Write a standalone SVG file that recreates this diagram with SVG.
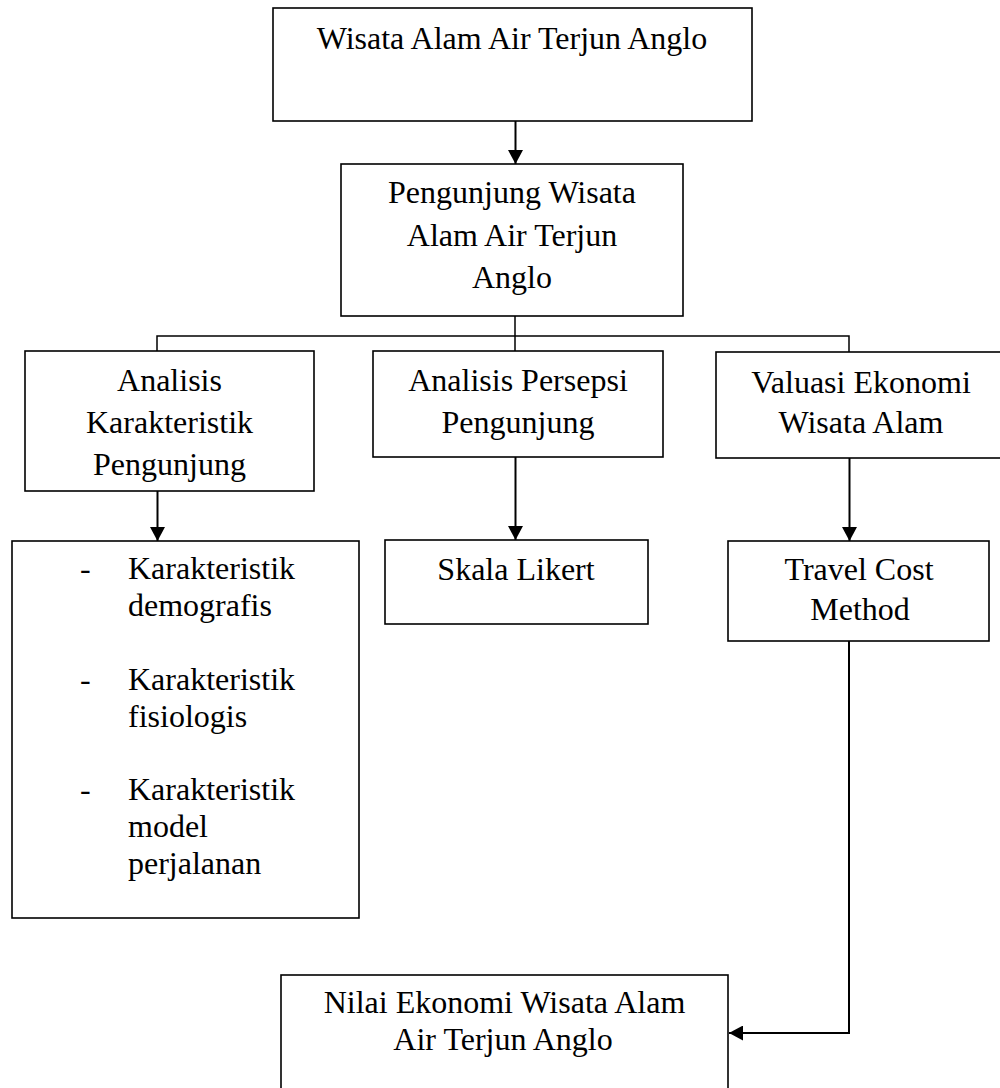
<svg xmlns="http://www.w3.org/2000/svg" width="1000" height="1088" viewBox="0 0 1000 1088">
<defs>
<style>
.box{fill:#fff;stroke:#000;stroke-width:1.6}
.t{font-family:"Liberation Serif","Times New Roman",serif;font-size:32px;fill:#000;text-anchor:middle}
.l{font-family:"Liberation Serif","Times New Roman",serif;font-size:32px;fill:#000}
.c{fill:none;stroke:#000;stroke-width:1.5}
.a{fill:none;stroke:#000;stroke-width:2}
</style>
<marker id="ah" viewBox="0 0 14 15" refX="14" refY="7.5" markerWidth="14" markerHeight="15" markerUnits="userSpaceOnUse" orient="auto">
<path d="M0,0 L14,7.5 L0,15 Z" fill="#000"/>
</marker>
</defs>
<rect width="1000" height="1088" fill="#fff"/>
<g id="connectors">
<line class="a" x1="515.5" y1="121" x2="515.5" y2="164" marker-end="url(#ah)"/>
<path class="c" d="M515,316 V336 M157,351 V336 H849 V352 M515,336 V351"/>
<line class="a" x1="157.5" y1="491" x2="157.5" y2="541" marker-end="url(#ah)"/>
<line class="a" x1="515.5" y1="457" x2="515.5" y2="540" marker-end="url(#ah)"/>
<line class="a" x1="849.5" y1="458" x2="849.5" y2="541" marker-end="url(#ah)"/>
<path class="a" d="M849,641 V1033 H729" marker-end="url(#ah)"/>
</g>
<g id="n-wisata">
<rect class="box" x="273" y="8" width="479" height="113"/>
<text class="t" x="512" y="49">Wisata Alam Air Terjun Anglo</text>
</g>
<g id="n-pengunjung">
<rect class="box" x="341" y="164" width="342" height="152"/>
<text class="t" x="512" y="203">Pengunjung Wisata</text>
<text class="t" x="512" y="246">Alam Air Terjun</text>
<text class="t" x="512" y="288">Anglo</text>
</g>
<g id="n-karakteristik">
<rect class="box" x="25" y="351" width="289" height="140"/>
<text class="t" x="169.5" y="391">Analisis</text>
<text class="t" x="169.5" y="433">Karakteristik</text>
<text class="t" x="169.5" y="475">Pengunjung</text>
</g>
<g id="n-persepsi">
<rect class="box" x="373" y="351" width="290" height="106"/>
<text class="t" x="518" y="391">Analisis Persepsi</text>
<text class="t" x="518" y="433">Pengunjung</text>
</g>
<g id="n-valuasi">
<rect class="box" x="716" y="352" width="300" height="106"/>
<text class="t" x="861" y="393">Valuasi Ekonomi</text>
<text class="t" x="861" y="433">Wisata Alam</text>
</g>
<g id="n-list">
<rect class="box" x="12" y="541" width="347" height="377"/>
<text class="l" x="80" y="579">-</text>
<text class="l" x="128" y="579">Karakteristik</text>
<text class="l" x="128" y="616">demografis</text>
<text class="l" x="80" y="690">-</text>
<text class="l" x="128" y="690">Karakteristik</text>
<text class="l" x="128" y="727">fisiologis</text>
<text class="l" x="80" y="800">-</text>
<text class="l" x="128" y="800">Karakteristik</text>
<text class="l" x="128" y="837">model</text>
<text class="l" x="128" y="874">perjalanan</text>
</g>
<g id="n-skala">
<rect class="box" x="385" y="540" width="263" height="84"/>
<text class="t" x="516" y="580">Skala Likert</text>
</g>
<g id="n-travel">
<rect class="box" x="728" y="541" width="261" height="100"/>
<text class="t" x="859" y="580">Travel Cost</text>
<text class="t" x="860" y="620">Method</text>
</g>
<g id="n-nilai">
<rect class="box" x="281" y="975" width="447" height="130"/>
<text class="t" x="504.5" y="1013">Nilai Ekonomi Wisata Alam</text>
<text class="t" x="503" y="1050">Air Terjun Anglo</text>
</g>
</svg>
